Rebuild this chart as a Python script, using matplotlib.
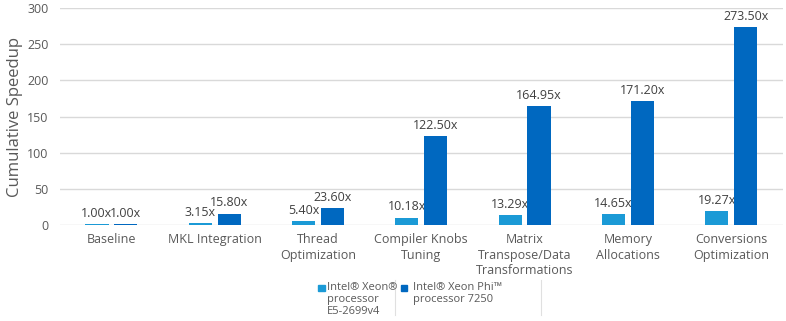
import numpy as np
from matplotlib import pyplot as plt
from matplotlib.patches import Rectangle
from matplotlib.lines import Line2D

plt.rcParams['font.family'] = ['Open Sans', 'DejaVu Sans']

categories = ["Baseline", "MKL Integration", "Thread\nOptimization", "Compiler Knobs\nTuning",
              "Matrix\nTranspose/Data\nTransformations", "Memory\nAllocations", "Conversions\nOptimization"]
xeon = [1.00, 3.15, 5.40, 10.18, 13.29, 14.65, 19.27]
xeon_phi = [1.00, 15.80, 23.60, 122.50, 164.95, 171.20, 273.50]
series_names = ["Intel\u00ae Xeon\u00ae\nprocessor\nE5-2699v4", "Intel\u00ae Xeon Phi\u2122\nprocessor 7250"]
yticks = [0, 50, 100, 150, 200, 250, 300]

light = '#1b9ad6'
dark = '#0068c0'
grey = '#595959'

fig = plt.figure(figsize=(7.86, 3.21), dpi=100)
ax = fig.add_axes([0.076, 0.299, 0.920, 0.676])

x = np.arange(len(categories))
w = 0.225
off = 0.14
b1 = ax.bar(x - off, xeon, w, color=light, zorder=3)
b2 = ax.bar(x + off, xeon_phi, w, color=dark, zorder=3)

for bars, vals in ((b1, xeon), (b2, xeon_phi)):
    for b, v in zip(bars, vals):
        ax.annotate("{:.2f}x".format(v), (b.get_x() + b.get_width() / 2, v),
                    xytext=(0, 3), textcoords='offset points', ha='center', va='bottom',
                    fontsize=9, color='#404040', zorder=2)

ax.set_xlim(-0.5, len(categories) - 0.5)
ax.set_ylim(0, 300)
ax.set_yticks(yticks)
ax.set_xticks(x)
ax.set_xticklabels(categories, fontsize=9, color=grey, linespacing=1.25)
ax.tick_params(axis='y', labelsize=9, colors=grey, length=0, pad=8)
ax.tick_params(axis='x', length=0, pad=6)
ax.grid(axis='y', color='#d9d9d9', linewidth=1, zorder=0)
for s in ax.spines.values():
    s.set_visible(False)
ax.set_ylabel("Cumulative Speedup", fontsize=12, color=grey, labelpad=3)

# legend drawn by hand so the swatches sit on the first text line
fig.add_artist(Rectangle((0.405, 0.092), 0.008, 0.020, transform=fig.transFigure, color=light))
fig.text(0.416, 0.122, series_names[0], fontsize=8, color=grey, va='top', ha='left', linespacing=1.15)
fig.add_artist(Rectangle((0.510, 0.092), 0.008, 0.020, transform=fig.transFigure, color=dark))
fig.text(0.525, 0.122, series_names[1], fontsize=8, color=grey, va='top', ha='left', linespacing=1.15)
fig.add_artist(Line2D([0.502, 0.502], [0.02, 0.128], transform=fig.transFigure, color='#e0e0e0', lw=0.8))
fig.add_artist(Line2D([0.688, 0.688], [0.02, 0.128], transform=fig.transFigure, color='#e0e0e0', lw=0.8))

fig.savefig("out.png", dpi=100)
